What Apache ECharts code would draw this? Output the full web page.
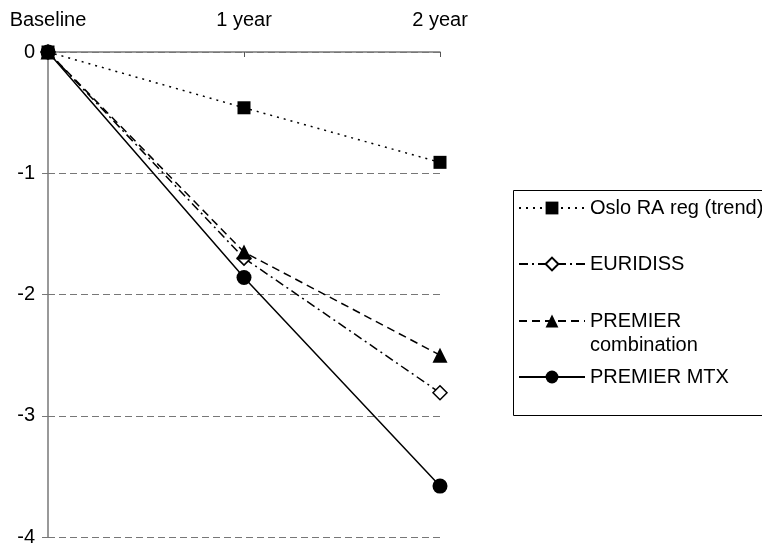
<!DOCTYPE html>
<html>
<head>
<meta charset="utf-8">
<script src="https://cdn.jsdelivr.net/npm/echarts@6/dist/echarts.min.js"></script>
<style>
html,body{margin:0;padding:0;background:#fff;}
#chart{width:762px;height:547px;}
</style>
</head>
<body>
<div id="chart"></div>
<script>
const categories = ['Baseline', '1 year', '2 year'];
const seriesNames = ['Oslo RA reg (trend)', 'EURIDISS', 'PREMIER combination', 'PREMIER MTX'];
const osloValues = [0, -0.46, -0.91];
const euridissValues = [0, -1.70, -2.81];
const premierComboValues = [0, -1.65, -2.50];
const premierMtxValues = [0, -1.86, -3.58];
const yMin = -4, yMax = 0, yStep = 1;

const FONT = '"Liberation Sans", Arial, sans-serif';
const FS = 20;
const chart = echarts.init(document.getElementById('chart'), null, {renderer: 'canvas'});

function legendAt(name, top, extra) {
  return Object.assign({
    data: [name],
    orient: 'vertical',
    left: 518,
    top: top,
    padding: 0,
    itemWidth: 66,
    itemHeight: 16,
    selectedMode: false,
    textStyle: {fontFamily: FONT, fontSize: FS, color: '#000', lineHeight: 22}
  }, extra || {});
}

chart.setOption({
  animation: false,
  backgroundColor: '#fff',
  grid: {left: 48, top: 52, width: 392, height: 485, containLabel: false},
  xAxis: {
    type: 'category',
    position: 'top',
    data: categories,
    boundaryGap: false,
    axisLine: {lineStyle: {color: '#777', width: 1.5}},
    axisTick: {show: true, inside: true, length: 5, lineStyle: {color: '#555'}},
    axisLabel: {fontFamily: FONT, fontSize: FS, color: '#000', margin: 22},
    splitLine: {show: false}
  },
  yAxis: {
    type: 'value',
    min: yMin,
    max: yMax,
    interval: yStep,
    axisLine: {show: true, onZero: false, lineStyle: {color: '#777', width: 1.5}},
    axisTick: {show: true, length: 6, lineStyle: {color: '#777'}},
    axisLabel: {fontFamily: FONT, fontSize: FS, color: '#000', margin: 13},
    splitLine: {show: true, lineStyle: {color: '#777', type: [7, 4], width: 1}}
  },
  legend: [
    legendAt(seriesNames[0], 197),
    legendAt(seriesNames[1], 253),
    legendAt(seriesNames[2], 285, {
      formatter: function () { return ' \nPREMIER\ncombination'; },
      textStyle: {fontFamily: FONT, fontSize: FS, color: '#000', lineHeight: 24}
    }),
    legendAt(seriesNames[3], 366)
  ],
  graphic: [{
    type: 'rect',
    shape: {x: 513.5, y: 190.5, width: 300, height: 225},
    style: {fill: 'none', stroke: '#000', lineWidth: 1},
    silent: true
  }],
  series: [
    {
      name: seriesNames[0], type: 'line', data: osloValues,
      symbol: 'rect', symbolSize: 13,
      lineStyle: {color: '#000', width: 1.5, type: [2, 5]},
      itemStyle: {color: '#000'}
    },
    {
      name: seriesNames[1], type: 'line', data: euridissValues,
      symbol: 'diamond', symbolSize: 14,
      lineStyle: {color: '#000', width: 1.5, type: [9, 4, 2, 4]},
      itemStyle: {color: '#fff', borderColor: '#000', borderWidth: 1.5}
    },
    {
      name: seriesNames[2], type: 'line', data: premierComboValues,
      symbol: 'triangle', symbolSize: 15,
      lineStyle: {color: '#000', width: 1.5, type: [8, 5]},
      itemStyle: {color: '#000'}
    },
    {
      name: seriesNames[3], type: 'line', data: premierMtxValues,
      symbol: 'circle', symbolSize: 15,
      lineStyle: {color: '#000', width: 1.5, type: 'solid'},
      itemStyle: {color: '#000'}
    }
  ]
});
</script>
</body>
</html>
